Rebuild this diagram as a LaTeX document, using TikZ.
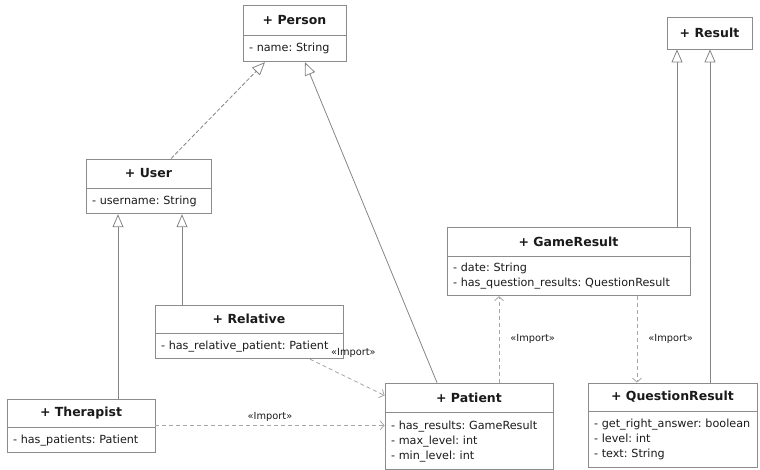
\documentclass[tikz,border=0pt]{standalone}
\usepackage{fontspec}
\setmainfont{DejaVu Sans}
\usetikzlibrary{arrows.meta}
\definecolor{boxgray}{HTML}{8C8C8C}
\definecolor{linegray}{HTML}{858585}
\definecolor{dashgray}{HTML}{A6A6A6}
\definecolor{txt}{HTML}{1A1A1A}
\frenchspacing
\begin{document}
\begin{tikzpicture}[x=1pt,y=-1pt]
\tikzstyle{title}=[draw=boxgray,line width=0.8pt,fill=white,inner sep=0pt,text=txt,font=\fontsize{12.5}{14}\selectfont\bfseries]
\tikzstyle{attr}=[draw=boxgray,line width=0.8pt,anchor=north,inner xsep=6pt,inner ysep=0pt,align=left,text=txt,font=\fontsize{11.2}{15}\selectfont]
\tikzstyle{inherit}=[draw=linegray,line width=0.8pt,-{Triangle[open,length=13pt,width=11pt]}]
\tikzstyle{realize}=[inherit,dash pattern=on 4pt off 2pt]
\tikzstyle{dep}=[draw=dashgray,line width=0.8pt,dash pattern=on 4pt off 3pt,-{Straight Barb[length=4pt,width=9pt]}]
\tikzstyle{imp}=[text=txt,font=\fontsize{9.8}{11}\selectfont,inner sep=1pt]
\useasboundingbox (0,0) rectangle (760,470);
\node[title,minimum width=103pt,minimum height=30pt] (person) at (294.5,20) {+ Person};
\node[attr,text width=91pt,minimum height=26pt] (person-a) at (person.south) {- name: String};
\node[title,minimum width=85pt,minimum height=32pt] (result) at (709.5,33) {+ Result};
\node[title,minimum width=125pt,minimum height=29pt] (user) at (148.5,173.5) {+ User};
\node[attr,text width=113pt,minimum height=25pt] (user-a) at (user.south) {- username: String};
\node[title,minimum width=188pt,minimum height=28pt] (relative) at (249,319) {+ Relative};
\node[attr,text width=176pt,minimum height=25pt] (relative-a) at (relative.south) {- has\_relative\_patient: Patient};
\node[title,minimum width=148pt,minimum height=28pt] (therapist) at (81,413) {+ Therapist};
\node[attr,text width=136pt,minimum height=25pt] (therapist-a) at (therapist.south) {- has\_patients: Patient};
\node[title,minimum width=168pt,minimum height=29pt] (patient) at (469,397.5) {+ Patient};
\node[attr,text width=156pt,minimum height=57pt] (patient-a) at (patient.south) {- has\_results: GameResult\\- max\_level: int\\- min\_level: int};
\node[title,minimum width=243pt,minimum height=29pt] (game) at (568.5,241.5) {+ GameResult};
\node[attr,text width=231pt,minimum height=39pt] (game-a) at (game.south) {- date: String\\- has\_question\_results: QuestionResult};
\node[title,minimum width=169pt,minimum height=28pt] (question) at (672.5,397) {+ QuestionResult};
\node[attr,text width=157pt,minimum height=56pt] (question-a) at (question.south) {- get\_right\_answer: boolean\\- level: int\\- text: String};
\draw[realize] ([xshift=22.5pt]user.north) -- ([xshift=-29.5pt]person-a.south);
\draw[inherit] ([xshift=-32pt]patient.north) -- ([xshift=10.5pt]person-a.south);
\draw[inherit] ([xshift=37pt]therapist.north) -- ([xshift=-30.5pt]user-a.south);
\draw[inherit] ([xshift=-67pt]relative.north) -- ([xshift=33.5pt]user-a.south);
\draw[inherit] ([xshift=108.5pt]game.north) -- ([xshift=-32.5pt]result.south);
\draw[inherit] ([xshift=37.5pt]question.north) -- ([xshift=0.5pt]result.south);
\draw[dep] ([xshift=61pt]relative-a.south) -- ([yshift=2pt]patient.west);
\node[imp] (imp1) at ([xshift=10pt,yshift=6pt]relative-a.south east) {«Import»};
\draw[dep] ([yshift=2pt]therapist.south east) -- node[imp,above=2pt] (imp2) {«Import»} ([yshift=2pt]therapist.south east -| patient-a.west);
\draw[dep] ([xshift=30pt]patient.north) -- node[imp,right=10pt] (imp3) {«Import»} ([xshift=-69.5pt]game-a.south);
\draw[dep] ([xshift=68.5pt]game-a.south) -- node[imp,right=10pt] (imp4) {«Import»} ([xshift=-35.5pt]question.north);
\end{tikzpicture}
\end{document}
